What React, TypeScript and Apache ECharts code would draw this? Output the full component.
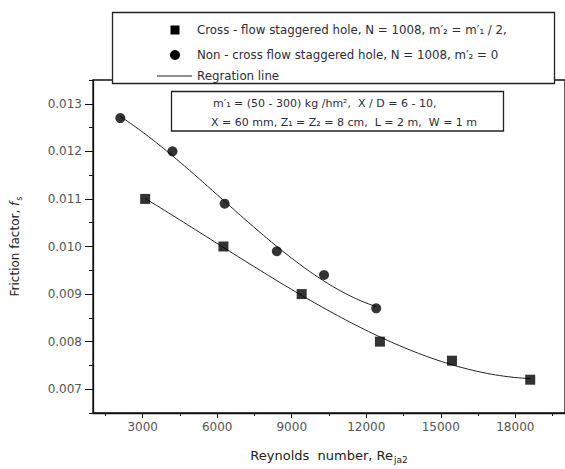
import React, { useEffect, useRef } from "react";
import * as echarts from "echarts";

// Measured friction factor against Reynolds number
const crossFlowRe = [3100, 6250, 9400, 12550, 15450, 18600];
const crossFlowF = [0.011, 0.01, 0.009, 0.008, 0.0076, 0.0072];
const nonCrossRe = [2100, 4200, 6300, 8400, 10300, 12400];
const nonCrossF = [0.0127, 0.012, 0.0109, 0.0099, 0.0094, 0.0087];

// Axis ticks
const xMajorTicks = [3000, 6000, 9000, 12000, 15000, 18000];
const xMinorTicks = [1500, 4500, 7500, 10500, 13500, 16500, 19500];
const yMajorTicks = [0.007, 0.008, 0.009, 0.01, 0.011, 0.012, 0.013];
const yMinorTicks = [0.0065, 0.0075, 0.0085, 0.0095, 0.0105, 0.0115, 0.0125, 0.0135];

const legendCross = "Cross - flow staggered hole, N = 1008, m′₂ = m′₁ / 2,";
const legendNonCross = "Non - cross flow staggered hole, N = 1008, m′₂ = 0";
const legendFit = "Regration line";
const noteLine1 = "m′₁ = (50 - 300) kg /hm²,  X / D = 6 - 10,";
const noteLine2 = "X = 60 mm, Z₁ = Z₂ = 8 cm,  L = 2 m,  W = 1 m";

const FONT = '"DejaVu Sans", "Liberation Sans", sans-serif';

// Least-squares polynomial fit (x scaled by 1e-4 for conditioning)
function polyFit(xs: number[], ys: number[], degree: number): number[] {
  const n = degree + 1;
  const A: number[][] = Array.from({ length: n }, () => new Array(n + 1).fill(0));
  for (let k = 0; k < xs.length; k++) {
    const x = xs[k] / 10000;
    for (let i = 0; i < n; i++) {
      for (let j = 0; j < n; j++) A[i][j] += Math.pow(x, i + j);
      A[i][n] += Math.pow(x, i) * ys[k];
    }
  }
  for (let c = 0; c < n; c++) {
    let p = c;
    for (let r = c + 1; r < n; r++) if (Math.abs(A[r][c]) > Math.abs(A[p][c])) p = r;
    const tmp = A[c];
    A[c] = A[p];
    A[p] = tmp;
    for (let r = 0; r < n; r++) {
      if (r === c) continue;
      const f = A[r][c] / A[c][c];
      for (let k = c; k <= n; k++) A[r][k] -= f * A[c][k];
    }
  }
  return A.map((row, i) => row[n] / row[i]);
}

function fitCurve(xs: number[], ys: number[]): number[][] {
  const coef = polyFit(xs, ys, 3);
  const x0 = xs[0];
  const x1 = xs[xs.length - 1];
  const pts: number[][] = [];
  const steps = 100;
  for (let i = 0; i <= steps; i++) {
    const x = x0 + ((x1 - x0) * i) / steps;
    const t = x / 10000;
    pts.push([x, coef.reduce((s, c, k) => s + c * Math.pow(t, k), 0)]);
  }
  return pts;
}

export default function App() {
  const ref = useRef<HTMLDivElement>(null);

  useEffect(() => {
    if (!ref.current) return;
    const chart = echarts.init(ref.current, undefined, { renderer: "svg" });

    const labelStyle = { color: "#555", fontSize: 12, fontFamily: FONT };
    const textFill = "#2b2d3a";

    chart.setOption({
      animation: false,
      backgroundColor: "#fff",
      grid: {
        left: 93,
        top: 80,
        width: 475,
        height: 337,
        show: true,
        borderColor: "#111",
        borderWidth: 1.3,
        backgroundColor: "transparent",
      },
      xAxis: [
        {
          type: "value",
          min: 1000,
          max: 20000,
          position: "bottom",
          axisLine: { lineStyle: { color: "#111", width: 1.3 } },
          axisTick: { show: true, customValues: xMajorTicks, length: 5, lineStyle: { color: "#111" } },
          axisLabel: {
            customValues: xMajorTicks,
            margin: 8,
            formatter: (v: number) => String(Math.round(v)),
            ...labelStyle,
          },
          splitLine: { show: false },
          name: "{n|Reynolds  number, Re}{s|ja2}",
          nameLocation: "middle",
          nameGap: 33,
          nameTextStyle: {
            rich: {
              n: { fontSize: 13, fontFamily: FONT, color: "#222" },
              s: { fontSize: 9, fontFamily: FONT, color: "#222", padding: [9, 0, 0, 1] },
            },
          },
        },
        {
          type: "value",
          min: 1000,
          max: 20000,
          position: "bottom",
          axisLine: { show: false },
          axisTick: { show: true, customValues: xMinorTicks, length: 3, lineStyle: { color: "#111" } },
          axisLabel: { show: false },
          splitLine: { show: false },
        },
      ],
      yAxis: [
        {
          type: "value",
          min: 0.0065,
          max: 0.0135,
          position: "left",
          axisLine: { show: true, lineStyle: { color: "#111", width: 1.3 } },
          axisTick: { show: true, customValues: yMajorTicks, length: 8, lineStyle: { color: "#111" } },
          axisLabel: {
            customValues: yMajorTicks,
            margin: 11,
            formatter: (v: number) => v.toFixed(3),
            ...labelStyle,
          },
          splitLine: { show: false },
          name: "{n|Friction factor, }{i|f}{s|s}",
          nameLocation: "middle",
          nameGap: 70,
          nameTextStyle: {
            rich: {
              n: { fontSize: 12, fontFamily: FONT, color: "#222" },
              i: { fontSize: 12, fontFamily: FONT, fontStyle: "italic", color: "#222" },
              s: { fontSize: 8, fontFamily: FONT, color: "#222", padding: [8, 0, 0, 1] },
            },
          },
        },
        {
          type: "value",
          min: 0.0065,
          max: 0.0135,
          position: "left",
          axisLine: { show: false },
          axisTick: { show: true, customValues: yMinorTicks, length: 4, lineStyle: { color: "#111" } },
          axisLabel: { show: false },
          splitLine: { show: false },
        },
      ],
      series: [
        {
          name: legendFit,
          type: "line",
          data: fitCurve(crossFlowRe, crossFlowF),
          showSymbol: false,
          symbol: "none",
          lineStyle: { color: "#222", width: 1 },
          z: 2,
        },
        {
          name: legendFit,
          type: "line",
          data: fitCurve(nonCrossRe, nonCrossF),
          showSymbol: false,
          symbol: "none",
          lineStyle: { color: "#222", width: 1 },
          z: 2,
        },
        {
          name: legendCross,
          type: "scatter",
          data: crossFlowRe.map((x, i) => [x, crossFlowF[i]]),
          symbol: "rect",
          symbolSize: 10,
          itemStyle: { color: "#000" },
          z: 3,
        },
        {
          name: legendNonCross,
          type: "scatter",
          data: nonCrossRe.map((x, i) => [x, nonCrossF[i]]),
          symbol: "circle",
          symbolSize: 10,
          itemStyle: { color: "#000" },
          z: 3,
        },
      ],
      graphic: [
        {
          type: "group",
          z: 100,
          children: [
            {
              type: "rect",
              shape: { x: 112.5, y: 12.5, width: 442, height: 71 },
              style: { fill: "#fff", stroke: "#222", lineWidth: 1.3 },
            },
            {
              type: "rect",
              shape: { x: 170.5, y: 25.5, width: 9, height: 9 },
              style: { fill: "#000" },
            },
            {
              type: "text",
              x: 197,
              y: 30,
              style: { text: legendCross, fill: textFill, font: `11.8px ${FONT}`, verticalAlign: "middle" },
            },
            {
              type: "circle",
              shape: { cx: 175, cy: 55, r: 5 },
              style: { fill: "#000" },
            },
            {
              type: "text",
              x: 197,
              y: 55,
              style: { text: legendNonCross, fill: textFill, font: `11.8px ${FONT}`, verticalAlign: "middle" },
            },
            {
              type: "line",
              shape: { x1: 157, y1: 76, x2: 192, y2: 76 },
              style: { stroke: "#222", lineWidth: 1.2 },
            },
            {
              type: "text",
              x: 197,
              y: 76,
              style: { text: legendFit, fill: textFill, font: `11.8px ${FONT}`, verticalAlign: "middle" },
            },
            {
              type: "rect",
              shape: { x: 171.5, y: 91.5, width: 332, height: 39.5 },
              style: { fill: "#fff", stroke: "#222", lineWidth: 1.3 },
            },
            {
              type: "text",
              x: 213,
              y: 103,
              style: { text: noteLine1, fill: textFill, font: `11px ${FONT}`, verticalAlign: "middle" },
            },
            {
              type: "text",
              x: 211,
              y: 122,
              style: { text: noteLine2, fill: textFill, font: `11px ${FONT}`, verticalAlign: "middle" },
            },
          ],
        },
      ],
    });

    return () => chart.dispose();
  }, []);

  return (
    <div
      ref={ref}
      style={{ position: "fixed", left: 0, top: 0, width: 565, height: 469, background: "#fff" }}
    />
  );
}
